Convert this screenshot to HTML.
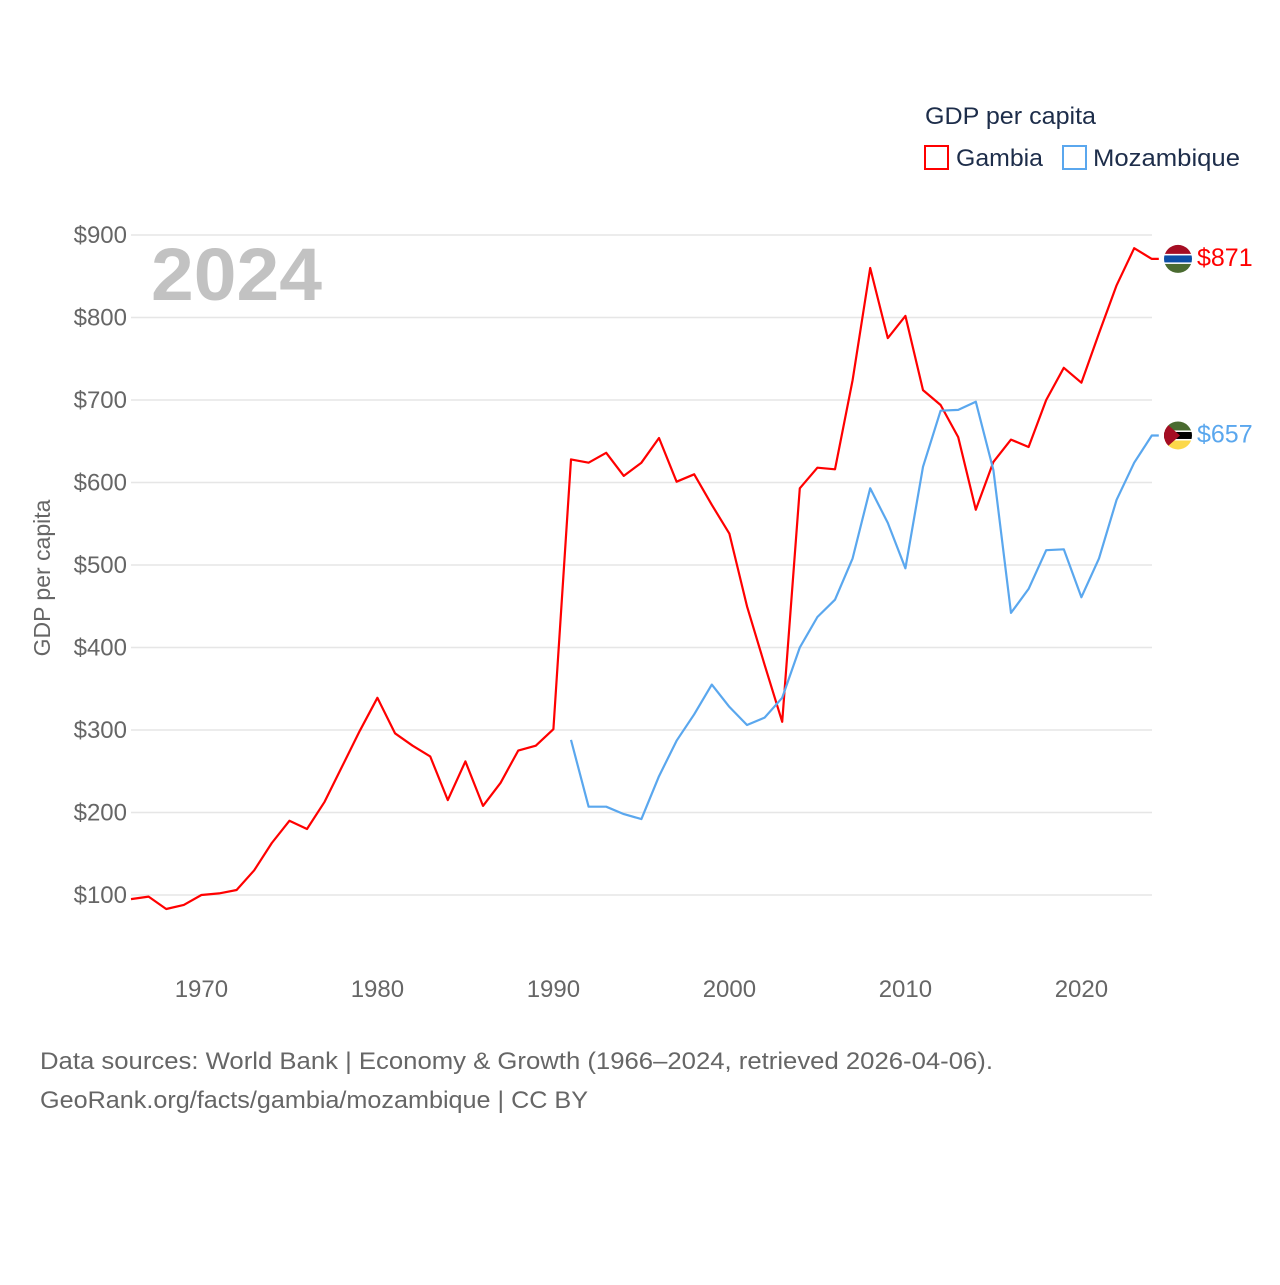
<!DOCTYPE html>
<html><head><meta charset="utf-8"><style>
body{margin:0;background:#fff;font-family:"Liberation Sans",sans-serif;}
svg text{font-family:"Liberation Sans",sans-serif;}
</style></head><body>
<svg width="1280" height="1280" viewBox="0 0 1280 1280">
<g id="grid"></g>
<g id="yt"></g>
<g id="xt"></g>
<text x="151" y="300" font-size="74" font-weight="bold" fill="#c2c2c2" textLength="171" lengthAdjust="spacingAndGlyphs">2024</text>
<text transform="translate(50,578) rotate(-90)" text-anchor="middle" font-size="23" fill="#666">GDP per capita</text>
<g id="lines"></g>
<g>
<text x="925" y="124" font-size="24" fill="#1d2d4a" textLength="171" lengthAdjust="spacingAndGlyphs">GDP per capita</text>
<g><rect x="925" y="146" width="23" height="23" fill="none" stroke="#f00" stroke-width="2"/><text x="956" y="166" font-size="24" fill="#1d2d4a" textLength="87" lengthAdjust="spacingAndGlyphs">Gambia</text></g>
<g><rect x="1063" y="146" width="23" height="23" fill="none" stroke="#5aa7ee" stroke-width="2"/><text x="1093" y="166" font-size="24" fill="#1d2d4a" textLength="147" lengthAdjust="spacingAndGlyphs">Mozambique</text></g>
</g>
<g id="ends"></g>
<text x="40" y="1069" font-size="24" fill="#666" textLength="953" lengthAdjust="spacingAndGlyphs">Data sources: World Bank | Economy &amp; Growth (1966–2024, retrieved 2026-04-06).</text>
<text x="40" y="1108" font-size="24" fill="#666" textLength="548" lengthAdjust="spacingAndGlyphs">GeoRank.org/facts/gambia/mozambique | CC BY</text>
</svg>
<script>
const gambiaStart=1966;
const gambia=[95,98,83,88,100,102,106,130,163,190,180,213,256,299,339,296,281,268,215,262,208,236,275,281,301,628,624,636,608,624,654,601,610,573,538,450,379,310,593,618,616,724,860,775,802,712,694,655,567,625,652,643,700,739,721,781,839,884,871];
const mozStart=1991;
const moz=[288,207,207,198,192,244,287,319,355,328,306,315,339,400,437,458,508,593,551,496,619,687,688,698,615,442,471,518,519,461,508,579,624,657];
const yTicks=[100,200,300,400,500,600,700,800,900];
const xTicks=[1970,1980,1990,2000,2010,2020];
const NS="http://www.w3.org/2000/svg";
const X=yr=>131+(yr-1966)*17.6;
const Y=v=>895-(v-100)*0.825;
function mk(t,a,p){const e=document.createElementNS(NS,t);for(const k in a)e.setAttribute(k,a[k]);p.appendChild(e);return e;}
const grid=document.getElementById('grid'),yt=document.getElementById('yt'),xt=document.getElementById('xt');
yTicks.forEach(v=>{
 const l=mk('line',{x1:131,x2:1152,y1:Y(v),y2:Y(v),stroke:'#e6e6e6','stroke-width':1.5},grid);
 
 
 const t=mk('text',{x:127,y:Y(v)+8,'text-anchor':'end','font-size':24,fill:'#666'},yt);
 t.textContent='$'+v;
 
 
});
xTicks.forEach(yr=>{
 const t=mk('text',{x:X(yr),y:997,'text-anchor':'middle','font-size':24,fill:'#666'},xt);
 t.textContent=yr;
 
 
});
const lines=document.getElementById('lines');
function draw(data,start,color,name){
 const pts=data.map((v,i)=>X(start+i).toFixed(1)+','+Y(v).toFixed(1));
 const last=data[data.length-1];
 pts.push((X(start+data.length-1)+7).toFixed(1)+','+Y(last).toFixed(1));
 const p=mk('polyline',{points:pts.join(' '),fill:'none',stroke:color,'stroke-width':2.2,'stroke-linejoin':'round'},lines);
 
 
}
draw(gambia,gambiaStart,'#f00','line-gambia');
draw(moz,mozStart,'#5aa7ee','line-mozambique');
const ends=document.getElementById('ends');
function endLabel(v,color,name,flag){
 const y=Y(v),cx=1178;
 const g=mk('g',{},ends);
 
 
 const cid='c'+name;
 const cp=mk('clipPath',{id:cid},g);mk('circle',{cx:cx,cy:y,r:14},cp);
 const fg=mk('g',{'clip-path':'url(#'+cid+')'},g);
 flag(fg,cx,y);
 const t=mk('text',{x:1197,y:y+7,'font-size':25,fill:color},g);
 t.textContent='$'+v;
}
endLabel(gambia[gambia.length-1],'#f00','end-label-gambia',(g,cx,y)=>{
 mk('rect',{x:cx-15,y:y-15,width:30,height:10,fill:'#a50d23'},g);
 mk('rect',{x:cx-15,y:y-5,width:30,height:10,fill:'#fff'},g);
 mk('rect',{x:cx-15,y:y-3.5,width:30,height:7,fill:'#0c4ea5'},g);
 mk('rect',{x:cx-15,y:y+5,width:30,height:10,fill:'#4a6b30'},g);
});
endLabel(moz[moz.length-1],'#5aa7ee','end-label-mozambique',(g,cx,y)=>{
 mk('rect',{x:cx-15,y:y-15,width:30,height:10,fill:'#4a6b30'},g);
 mk('rect',{x:cx-15,y:y-5,width:30,height:10,fill:'#fff'},g);
 mk('rect',{x:cx-15,y:y-3.5,width:30,height:7,fill:'#000'},g);
 mk('rect',{x:cx-15,y:y+5,width:30,height:10,fill:'#fcd84a'},g);
 mk('polygon',{points:(cx-15)+','+(y-15)+' '+(cx+2)+','+y+' '+(cx-15)+','+(y+15),fill:'#a50d23'},g);
});
</script>
</body></html>
